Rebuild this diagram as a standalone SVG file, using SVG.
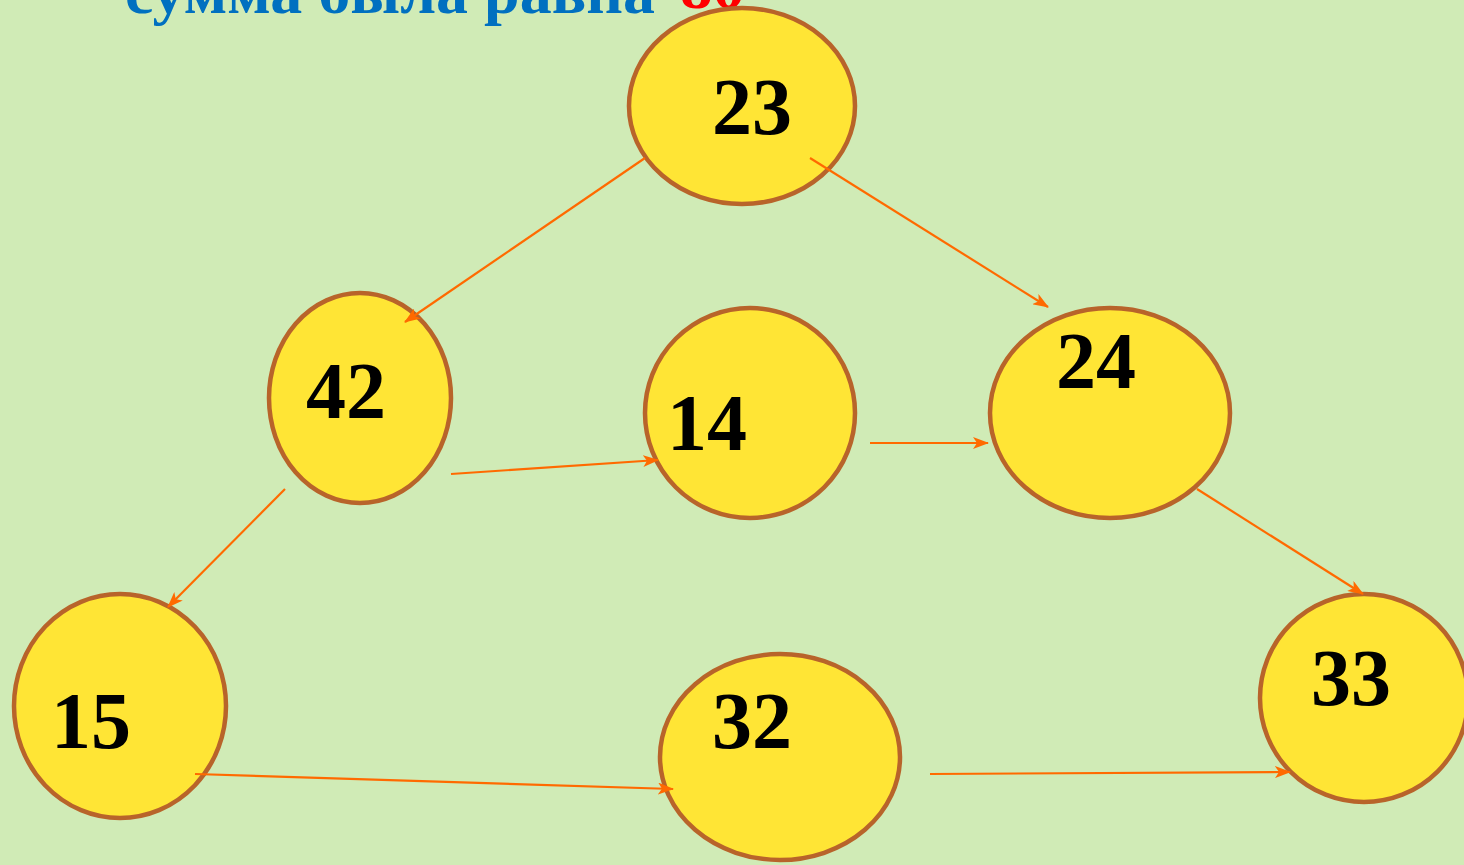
<svg xmlns="http://www.w3.org/2000/svg" width="1464" height="865" viewBox="0 0 1464 865">
<style>
.node{fill:#ffe535;stroke:#b8642a;stroke-width:4.5}
.lbl{font-family:"Liberation Serif","DejaVu Serif",serif;font-weight:bold;font-size:80px;fill:#000}
.edge{stroke:#ff6a00;stroke-width:2.2;fill:none;marker-end:url(#ah)}
.title{font-family:"Liberation Serif","DejaVu Serif",serif;font-weight:bold;font-size:62px;fill:#0070c0}
</style>
<defs>
<marker id="ah" viewBox="0 0 16 12" refX="15" refY="6" markerWidth="16" markerHeight="12" markerUnits="userSpaceOnUse" orient="auto">
<path d="M0,0 L16,6 L0,12 L4,6 Z" fill="#ff6a00"/>
</marker>
</defs>
<rect width="1464" height="865" fill="#d0ebb6"/>
<text class="title" x="125" y="13" textLength="530" lengthAdjust="spacingAndGlyphs">сумма была равна</text>
<text class="title" x="680" y="8" fill="#ff0000" style="fill:#ff0000" textLength="65" lengthAdjust="spacingAndGlyphs">80</text>
<g id="n23"><ellipse class="node" cx="742" cy="106" rx="113" ry="98"/><text class="lbl" x="752" y="134" text-anchor="middle">23</text></g>
<g id="n42"><ellipse class="node" cx="360" cy="398" rx="91" ry="105"/><text class="lbl" x="346" y="418" text-anchor="middle">42</text></g>
<g id="n14"><ellipse class="node" cx="750" cy="413" rx="105" ry="105"/><text class="lbl" x="707" y="450" text-anchor="middle">14</text></g>
<g id="n24"><ellipse class="node" cx="1110" cy="413" rx="120" ry="105"/><text class="lbl" x="1096" y="388" text-anchor="middle">24</text></g>
<g id="n15"><ellipse class="node" cx="120" cy="706" rx="106" ry="112"/><text class="lbl" x="91" y="748" text-anchor="middle">15</text></g>
<g id="n32"><ellipse class="node" cx="780" cy="757" rx="120" ry="103"/><text class="lbl" x="752" y="748" text-anchor="middle">32</text></g>
<g id="n33"><ellipse class="node" cx="1364" cy="698" rx="104" ry="104"/><text class="lbl" x="1351" y="705" text-anchor="middle">33</text></g>
<g id="edges">
<line class="edge" x1="645" y1="158" x2="405" y2="322"/>
<line class="edge" x1="810" y1="158" x2="1048" y2="307"/>
<line class="edge" x1="451" y1="474" x2="658" y2="460"/>
<line class="edge" x1="870" y1="443" x2="988" y2="443"/>
<line class="edge" x1="285" y1="489" x2="168" y2="607"/>
<line class="edge" x1="1197" y1="489" x2="1363" y2="594"/>
<line class="edge" x1="195" y1="774" x2="673" y2="789"/>
<line class="edge" x1="930" y1="774" x2="1290" y2="772"/>
</g>
</svg>
